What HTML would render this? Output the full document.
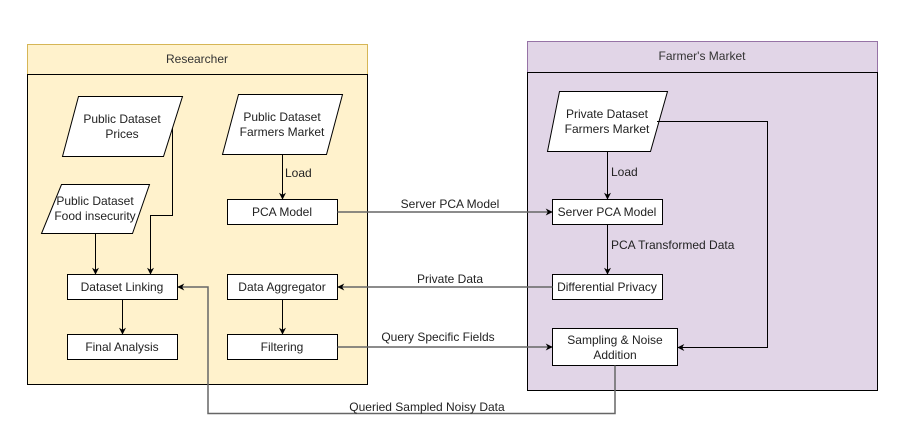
<!DOCTYPE html>
<html><head><style>html,body{margin:0;padding:0;background:#fff}</style></head><body>
<svg width="905" height="438" viewBox="0 0 905 438" xmlns="http://www.w3.org/2000/svg" font-family="Liberation Sans, Arial, sans-serif" font-size="12" fill="#222">
<defs>
<marker id="a" viewBox="0 0 10 10" refX="9" refY="5" markerWidth="7" markerHeight="7" orient="auto" markerUnits="userSpaceOnUse"><path d="M0,0 L10,5 L0,10 L3,5z" fill="#000"/></marker>
<marker id="g" viewBox="0 0 10 10" refX="9" refY="5" markerWidth="7" markerHeight="7" orient="auto" markerUnits="userSpaceOnUse"><path d="M0,0 L10,5 L0,10 L3,5z" fill="#000"/></marker>
</defs>
<!-- Researcher pool -->
<rect x="27.5" y="44.5" width="340" height="30" fill="#fff2cc" stroke="#d6b656"/>
<rect x="27.5" y="74.5" width="340" height="310" fill="#fff2cc" stroke="#000"/>
<text x="197" y="63" text-anchor="middle" fill="#333">Researcher</text>
<!-- Farmer pool -->
<rect x="527.5" y="41.5" width="350" height="31" fill="#e1d5e7" stroke="#9673a6"/>
<rect x="527.5" y="72.5" width="350" height="318" fill="#e1d5e7" stroke="#000"/>
<text x="702" y="60" text-anchor="middle" fill="#333">Farmer's Market</text>
<!-- parallelograms -->
<polygon points="78.5,96.5 182.5,96.5 163.5,156.5 62.5,156.5" fill="#fff" stroke="#000"/>
<text x="122" y="123" text-anchor="middle">Public Dataset</text><text x="122" y="138" text-anchor="middle">Prices</text>
<polygon points="61.5,184.5 149.5,184.5 132.5,233.5 41.5,233.5" fill="#fff" stroke="#000"/>
<text x="95" y="205" text-anchor="middle">Public Dataset</text><text x="95" y="220" text-anchor="middle">Food insecurity</text>
<polygon points="238.5,94.5 342.5,94.5 326.5,154.5 222.5,154.5" fill="#fff" stroke="#000"/>
<text x="282" y="121" text-anchor="middle">Public Dataset</text><text x="282" y="136" text-anchor="middle">Farmers Market</text>
<polygon points="559.5,91.5 667.5,91.5 650.5,151.5 547.5,151.5" fill="#fff" stroke="#000"/>
<text x="607" y="118" text-anchor="middle">Private Dataset</text><text x="607" y="133" text-anchor="middle">Farmers Market</text>
<!-- boxes -->
<g fill="#fff" stroke="#000">
<rect x="227.5" y="199.5" width="110" height="25"/>
<rect x="67.5" y="274.5" width="110" height="25"/>
<rect x="227.5" y="274.5" width="110" height="25"/>
<rect x="67.5" y="334.5" width="110" height="25"/>
<rect x="227.5" y="334.5" width="110" height="25"/>
<rect x="552.5" y="199.5" width="110" height="25"/>
<rect x="552.5" y="274.5" width="110" height="25"/>
<rect x="552.5" y="328.5" width="125" height="37"/>
</g>
<g text-anchor="middle">
<text x="282" y="216">PCA Model</text>
<text x="122" y="291">Dataset Linking</text>
<text x="282" y="291">Data Aggregator</text>
<text x="122" y="351">Final Analysis</text>
<text x="282" y="351">Filtering</text>
<text x="607" y="216">Server PCA Model</text>
<text x="607" y="291">Differential Privacy</text>
<text x="615" y="344">Sampling &amp; Noise</text>
<text x="615" y="359">Addition</text>
</g>
<!-- black connectors -->
<g fill="none" stroke="#000">
<path d="M282.5,154.5 V199" marker-end="url(#a)"/>
<path d="M95.5,233.5 V274" marker-end="url(#a)"/>
<path d="M172.5,128 V215.5 H150.5 V274" marker-end="url(#a)"/>
<path d="M122.5,299.5 V334" marker-end="url(#a)"/>
<path d="M282.5,299.5 V334" marker-end="url(#a)"/>
<path d="M607.5,151.5 V199" marker-end="url(#a)"/>
<path d="M607.5,224.5 V274" marker-end="url(#a)"/>
<path d="M657,121.5 H767.5 V347.5 H678" marker-end="url(#a)"/>
</g>
<!-- gray connectors -->
<g fill="none" stroke="#666" stroke-width="1.5">
<path d="M337.5,212 H552" marker-end="url(#g)"/>
<path d="M552.5,287 H338" marker-end="url(#g)"/>
<path d="M337.5,347 H552" marker-end="url(#g)"/>
<path d="M615,365.5 V413.5 H208 V287 H178" marker-end="url(#g)"/>
</g>
<text x="285" y="177">Load</text>
<text x="611" y="176">Load</text>
<text x="611" y="249">PCA Transformed Data</text>
<g text-anchor="middle">
<text x="450" y="208">Server PCA Model</text>
<text x="450" y="283">Private Data</text>
<text x="438" y="341">Query Specific Fields</text>
<text x="427" y="411">Queried Sampled Noisy Data</text>
</g>
</svg>
</body></html>
